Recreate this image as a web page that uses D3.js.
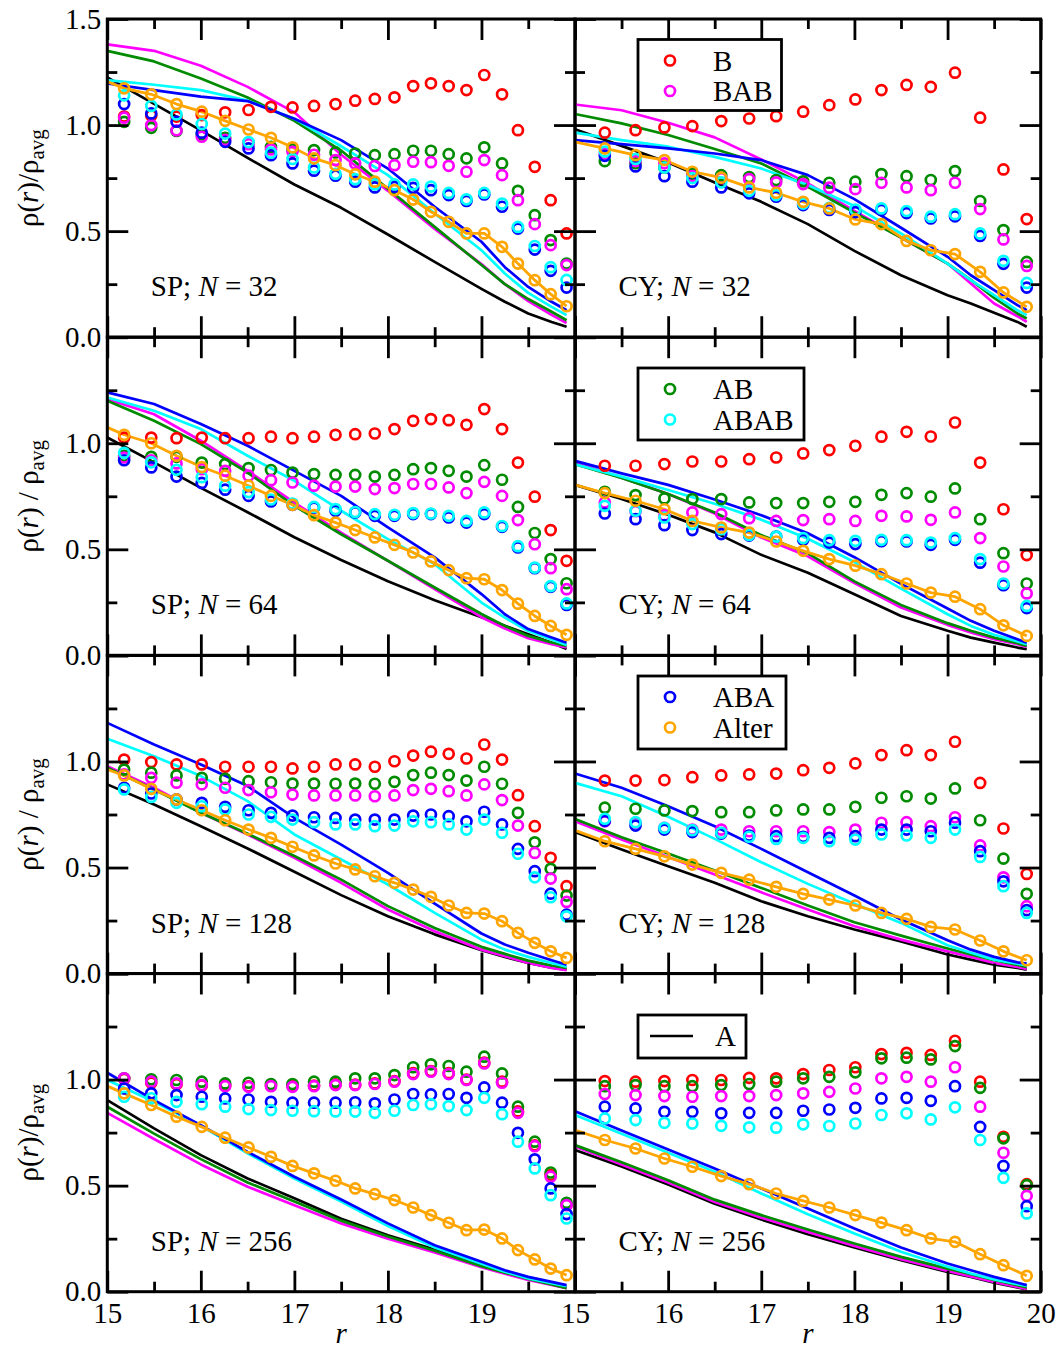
<!DOCTYPE html>
<html>
<head>
<meta charset="utf-8">
<script src="https://cdn.jsdelivr.net/npm/d3@7"></script>
<style>
body { margin: 0; background: #fff; }
svg text { font-family: "Liberation Serif", "Times New Roman", serif; fill: #000; }
</style>
</head>
<body>
<svg id="chart" width="1061" height="1348" font-family="Liberation Serif, serif"></svg>
<script>
// shell radii of the dots, and the line sample points
const R_SP = [15.18, 15.47, 15.74, 16.01, 16.26, 16.51, 16.75, 16.98, 17.21, 17.44, 17.65, 17.86, 18.07, 18.27, 18.46, 18.65, 18.84, 19.03, 19.22, 19.39, 19.57, 19.74, 19.91];
const R_CY = [15.32, 15.65, 15.96, 16.26, 16.57, 16.87, 17.16, 17.45, 17.73, 18.01, 18.29, 18.56, 18.82, 19.08, 19.35, 19.60, 19.85];
const R_LINE_SP = [15, 15.5, 16, 16.5, 17, 17.5, 18, 18.5, 19, 19.25, 19.5, 19.75, 19.91];
const R_LINE_CY = [15, 15.5, 16, 16.5, 17, 17.5, 18, 18.5, 19, 19.25, 19.5, 19.75, 19.85];

const X_MAJOR = [15, 16, 17, 18, 19, 20];
const X_MINOR = [15.5, 16.5, 17.5, 18.5, 19.5];
const Y_MAJOR = [0, 0.5, 1.0, 1.5];
const Y_MINOR = [0.25, 0.75, 1.25];

// ---- SP, N = 32
const sp32_B    = [1.04, 1.045, 1.04, 1.047, 1.06, 1.071, 1.086, 1.083, 1.09, 1.099, 1.115, 1.123, 1.131, 1.184, 1.197, 1.184, 1.165, 1.236, 1.145, 0.976, 0.803, 0.646, 0.489];
const sp32_BAB  = [1.035, 1.0, 0.975, 0.945, 0.93, 0.91, 0.885, 0.874, 0.86, 0.835, 0.819, 0.807, 0.811, 0.827, 0.825, 0.808, 0.78, 0.835, 0.764, 0.646, 0.533, 0.434, 0.34];
const sp32_AB   = [1.015, 0.987, 0.972, 0.956, 0.94, 0.915, 0.897, 0.885, 0.882, 0.871, 0.866, 0.858, 0.863, 0.879, 0.879, 0.863, 0.843, 0.895, 0.819, 0.69, 0.575, 0.458, 0.347];
const sp32_ABAB = [1.14, 1.09, 1.05, 1.005, 0.96, 0.92, 0.87, 0.84, 0.80, 0.77, 0.745, 0.72, 0.72, 0.72, 0.71, 0.68, 0.65, 0.68, 0.63, 0.52, 0.43, 0.33, 0.27];
const sp32_ABA  = [1.099, 1.055, 1.016, 0.964, 0.921, 0.89, 0.858, 0.819, 0.785, 0.761, 0.733, 0.706, 0.709, 0.704, 0.693, 0.670, 0.642, 0.673, 0.615, 0.512, 0.413, 0.313, 0.234];
const sp32_Alter = [1.173, 1.145, 1.099, 1.063, 1.02, 0.979, 0.94, 0.895, 0.843, 0.811, 0.768, 0.733, 0.693, 0.649, 0.591, 0.544, 0.489, 0.489, 0.426, 0.347, 0.269, 0.203, 0.146];
const sp32_alterStart = 1.205;
const sp32_lineA    = [1.225, 1.10, 0.975, 0.845, 0.72, 0.61, 0.484, 0.355, 0.228, 0.167, 0.112, 0.072, 0.049];
const sp32_lineBAB  = [1.38, 1.35, 1.28, 1.18, 1.06, 0.86, 0.69, 0.51, 0.345, 0.25, 0.17, 0.105, 0.067];
const sp32_lineAB   = [1.35, 1.30, 1.22, 1.13, 1.02, 0.88, 0.70, 0.52, 0.34, 0.25, 0.18, 0.12, 0.08];
const sp32_lineABAB = [1.212, 1.19, 1.165, 1.115, 1.03, 0.90, 0.764, 0.583, 0.41, 0.30, 0.209, 0.143, 0.104];
const sp32_lineABA  = [1.196, 1.165, 1.134, 1.113, 1.03, 0.929, 0.795, 0.615, 0.45, 0.33, 0.237, 0.167, 0.127];

// ---- CY, N = 32
const cy32_B    = [0.964, 0.976, 0.989, 0.995, 1.019, 1.031, 1.042, 1.063, 1.094, 1.121, 1.165, 1.189, 1.18, 1.247, 1.035, 0.791, 0.557];
const cy32_BAB  = [0.865, 0.83, 0.82, 0.76, 0.75, 0.745, 0.73, 0.722, 0.705, 0.698, 0.728, 0.706, 0.693, 0.728, 0.604, 0.461, 0.336];
const cy32_AB   = [0.83, 0.82, 0.80, 0.77, 0.764, 0.755, 0.741, 0.735, 0.728, 0.733, 0.769, 0.759, 0.741, 0.783, 0.642, 0.505, 0.355];
const cy32_ABAB = [0.875, 0.84, 0.80, 0.75, 0.73, 0.69, 0.67, 0.63, 0.61, 0.602, 0.607, 0.595, 0.568, 0.58, 0.489, 0.36, 0.256];
const cy32_ABA  = [0.855, 0.805, 0.759, 0.733, 0.706, 0.678, 0.662, 0.623, 0.60, 0.59, 0.60, 0.585, 0.56, 0.57, 0.477, 0.346, 0.234];
const cy32_Alter = [0.89, 0.858, 0.835, 0.78, 0.752, 0.706, 0.681, 0.638, 0.607, 0.555, 0.533, 0.454, 0.41, 0.392, 0.308, 0.211, 0.143];
const cy32_alterStart = 0.921;
const cy32_lineA    = [0.98, 0.902, 0.824, 0.729, 0.638, 0.533, 0.407, 0.292, 0.198, 0.159, 0.115, 0.072, 0.049];
const cy32_lineBAB  = [1.097, 1.07, 1.011, 0.942, 0.838, 0.725, 0.595, 0.47, 0.347, 0.253, 0.159, 0.099, 0.072];
const cy32_lineAB   = [1.052, 1.008, 0.953, 0.887, 0.819, 0.709, 0.587, 0.47, 0.347, 0.27, 0.185, 0.112, 0.088];
const cy32_lineABAB = [0.964, 0.929, 0.898, 0.85, 0.795, 0.717, 0.618, 0.489, 0.347, 0.269, 0.198, 0.127, 0.104];
const cy32_lineABA  = [0.929, 0.91, 0.89, 0.866, 0.835, 0.764, 0.651, 0.516, 0.379, 0.292, 0.222, 0.151, 0.127];

// ---- SP, N = 64
const sp64_B    = [1.027, 1.027, 1.024, 1.027, 1.024, 1.024, 1.031, 1.024, 1.031, 1.040, 1.043, 1.046, 1.067, 1.106, 1.114, 1.109, 1.087, 1.161, 1.067, 0.909, 0.748, 0.591, 0.446];
const sp64_BAB  = [0.933, 0.92, 0.905, 0.878, 0.87, 0.847, 0.826, 0.815, 0.80, 0.796, 0.796, 0.784, 0.789, 0.808, 0.808, 0.792, 0.765, 0.818, 0.752, 0.638, 0.524, 0.411, 0.312];
const sp64_AB   = [0.941, 0.936, 0.936, 0.909, 0.902, 0.883, 0.874, 0.862, 0.855, 0.851, 0.851, 0.843, 0.851, 0.878, 0.883, 0.870, 0.843, 0.897, 0.828, 0.70, 0.577, 0.454, 0.34];
const sp64_ABAB = [0.955, 0.91, 0.875, 0.84, 0.80, 0.77, 0.735, 0.716, 0.70, 0.69, 0.676, 0.666, 0.663, 0.671, 0.669, 0.658, 0.634, 0.674, 0.61, 0.515, 0.414, 0.327, 0.245];
const sp64_ABA  = [0.92, 0.886, 0.843, 0.813, 0.781, 0.752, 0.726, 0.71, 0.697, 0.682, 0.674, 0.658, 0.658, 0.666, 0.666, 0.65, 0.626, 0.666, 0.606, 0.509, 0.411, 0.323, 0.238];
const sp64_Alter = [1.04, 1.0, 0.941, 0.888, 0.847, 0.80, 0.752, 0.71, 0.661, 0.626, 0.591, 0.556, 0.521, 0.485, 0.443, 0.402, 0.364, 0.359, 0.308, 0.244, 0.186, 0.139, 0.097];
const sp64_alterStart = 1.075;
const sp64_lineA    = [1.027, 0.91, 0.79, 0.675, 0.557, 0.45, 0.35, 0.26, 0.18, 0.14, 0.10, 0.06, 0.03];
const sp64_lineBAB  = [1.208, 1.137, 1.012, 0.87, 0.72, 0.579, 0.446, 0.312, 0.18, 0.127, 0.081, 0.053, 0.037];
const sp64_lineAB   = [1.20, 1.106, 0.996, 0.862, 0.705, 0.571, 0.446, 0.32, 0.195, 0.139, 0.092, 0.061, 0.045];
const sp64_lineABAB = [1.216, 1.153, 1.067, 0.941, 0.823, 0.682, 0.548, 0.43, 0.249, 0.178, 0.115, 0.075, 0.049];
const sp64_lineABA  = [1.24, 1.185, 1.091, 0.988, 0.87, 0.752, 0.603, 0.462, 0.289, 0.194, 0.124, 0.084, 0.06];

// ---- CY, N = 64
const cy64_B    = [0.894, 0.894, 0.902, 0.914, 0.914, 0.925, 0.933, 0.952, 0.968, 0.988, 1.031, 1.054, 1.032, 1.098, 0.909, 0.689, 0.473];
const cy64_BAB  = [0.721, 0.68, 0.66, 0.674, 0.666, 0.647, 0.634, 0.638, 0.642, 0.634, 0.658, 0.655, 0.639, 0.674, 0.553, 0.419, 0.292];
const cy64_AB   = [0.771, 0.756, 0.74, 0.737, 0.737, 0.721, 0.718, 0.718, 0.724, 0.724, 0.757, 0.765, 0.748, 0.787, 0.642, 0.482, 0.339];
const cy64_ABAB = [0.705, 0.682, 0.65, 0.619, 0.595, 0.568, 0.56, 0.553, 0.543, 0.54, 0.545, 0.543, 0.532, 0.553, 0.454, 0.339, 0.233];
const cy64_ABA  = [0.669, 0.642, 0.614, 0.591, 0.572, 0.565, 0.56, 0.545, 0.532, 0.525, 0.538, 0.537, 0.521, 0.545, 0.437, 0.331, 0.223];
const cy64_Alter = [0.765, 0.729, 0.689, 0.634, 0.603, 0.579, 0.537, 0.493, 0.454, 0.423, 0.383, 0.339, 0.296, 0.277, 0.218, 0.142, 0.092];
const cy64_alterStart = 0.804;
const cy64_lineA    = [0.804, 0.737, 0.663, 0.58, 0.474, 0.39, 0.288, 0.186, 0.116, 0.084, 0.06, 0.037, 0.029];
const cy64_lineBAB  = [0.909, 0.838, 0.761, 0.669, 0.556, 0.467, 0.341, 0.226, 0.144, 0.108, 0.076, 0.053, 0.04];
const cy64_lineAB   = [0.901, 0.836, 0.761, 0.674, 0.567, 0.481, 0.349, 0.238, 0.152, 0.116, 0.084, 0.058, 0.045];
const cy64_lineABAB = [0.901, 0.843, 0.78, 0.715, 0.64, 0.55, 0.44, 0.315, 0.194, 0.139, 0.097, 0.066, 0.053];
const cy64_lineABA  = [0.917, 0.858, 0.804, 0.735, 0.661, 0.576, 0.463, 0.337, 0.221, 0.163, 0.116, 0.076, 0.06];

// ---- SP, N = 128
const sp128_B    = [1.009, 0.997, 0.986, 0.986, 0.975, 0.975, 0.975, 0.967, 0.975, 0.986, 0.986, 0.975, 1.001, 1.028, 1.046, 1.036, 1.014, 1.08, 1.009, 0.841, 0.695, 0.546, 0.412];
const sp128_BAB  = [0.939, 0.923, 0.9, 0.892, 0.876, 0.865, 0.855, 0.844, 0.84, 0.84, 0.84, 0.836, 0.84, 0.865, 0.871, 0.86, 0.84, 0.892, 0.818, 0.698, 0.569, 0.448, 0.338];
const sp128_AB   = [0.962, 0.947, 0.934, 0.923, 0.918, 0.907, 0.902, 0.896, 0.896, 0.895, 0.896, 0.895, 0.904, 0.936, 0.947, 0.936, 0.91, 0.975, 0.895, 0.758, 0.619, 0.494, 0.368];
const sp128_ABAB = [0.868, 0.833, 0.805, 0.789, 0.774, 0.75, 0.739, 0.726, 0.714, 0.703, 0.703, 0.695, 0.698, 0.718, 0.714, 0.703, 0.679, 0.726, 0.664, 0.565, 0.454, 0.36, 0.27];
const sp128_ABA  = [0.876, 0.849, 0.821, 0.805, 0.786, 0.77, 0.758, 0.745, 0.737, 0.734, 0.726, 0.726, 0.726, 0.745, 0.75, 0.742, 0.718, 0.763, 0.703, 0.588, 0.483, 0.377, 0.278];
const sp128_Alter = [0.934, 0.871, 0.821, 0.77, 0.723, 0.679, 0.64, 0.598, 0.557, 0.519, 0.491, 0.459, 0.428, 0.396, 0.362, 0.321, 0.286, 0.283, 0.247, 0.192, 0.145, 0.105, 0.074];
const sp128_alterStart = 0.962;
const sp128_lineA    = [0.892, 0.797, 0.695, 0.59, 0.48, 0.37, 0.27, 0.185, 0.11, 0.078, 0.05, 0.028, 0.019];
const sp128_lineBAB  = [0.978, 0.876, 0.758, 0.656, 0.546, 0.428, 0.302, 0.2, 0.113, 0.082, 0.05, 0.027, 0.016];
const sp128_lineAB   = [0.97, 0.868, 0.758, 0.659, 0.554, 0.443, 0.318, 0.215, 0.126, 0.093, 0.061, 0.038, 0.027];
const sp128_lineABAB = [1.107, 1.025, 0.931, 0.813, 0.656, 0.538, 0.42, 0.286, 0.16, 0.113, 0.079, 0.05, 0.032];
const sp128_lineABA  = [1.182, 1.08, 0.986, 0.884, 0.734, 0.608, 0.475, 0.33, 0.189, 0.137, 0.098, 0.063, 0.042];

// ---- CY, N = 128
const cy128_B    = [0.91, 0.91, 0.912, 0.926, 0.934, 0.939, 0.943, 0.959, 0.97, 0.991, 1.03, 1.053, 1.03, 1.093, 0.899, 0.684, 0.47];
const cy128_BAB  = [0.718, 0.711, 0.687, 0.679, 0.679, 0.671, 0.671, 0.671, 0.667, 0.679, 0.711, 0.714, 0.695, 0.737, 0.604, 0.454, 0.318];
const cy128_AB   = [0.782, 0.777, 0.769, 0.766, 0.761, 0.761, 0.769, 0.774, 0.774, 0.786, 0.829, 0.836, 0.825, 0.873, 0.723, 0.542, 0.376];
const cy128_ABAB = [0.73, 0.714, 0.687, 0.676, 0.664, 0.645, 0.635, 0.64, 0.624, 0.632, 0.656, 0.651, 0.64, 0.679, 0.55, 0.412, 0.286];
const cy128_ABA  = [0.72, 0.698, 0.679, 0.667, 0.66, 0.651, 0.648, 0.645, 0.64, 0.648, 0.679, 0.679, 0.671, 0.711, 0.577, 0.435, 0.299];
const cy128_Alter = [0.624, 0.588, 0.553, 0.514, 0.475, 0.443, 0.409, 0.376, 0.349, 0.321, 0.286, 0.258, 0.22, 0.208, 0.156, 0.105, 0.063];
const cy128_alterStart = 0.675;
const cy128_lineA    = [0.667, 0.585, 0.506, 0.428, 0.341, 0.27, 0.208, 0.152, 0.09, 0.066, 0.042, 0.027, 0.019];
const cy128_lineBAB  = [0.718, 0.632, 0.55, 0.467, 0.383, 0.302, 0.223, 0.16, 0.105, 0.079, 0.05, 0.032, 0.022];
const cy128_lineAB   = [0.729, 0.643, 0.566, 0.486, 0.404, 0.321, 0.242, 0.179, 0.118, 0.09, 0.063, 0.041, 0.032];
const cy128_lineABAB = [0.899, 0.836, 0.739, 0.635, 0.525, 0.423, 0.329, 0.239, 0.134, 0.098, 0.066, 0.047, 0.038];
const cy128_lineABA  = [0.943, 0.876, 0.789, 0.695, 0.588, 0.478, 0.368, 0.255, 0.157, 0.113, 0.079, 0.053, 0.047];

// ---- SP, N = 256
const sp256_B    = [1.003, 0.985, 0.978, 0.972, 0.972, 0.968, 0.972, 0.97, 0.972, 0.978, 0.976, 0.982, 0.993, 1.03, 1.04, 1.03, 1.0, 1.08, 0.99, 0.85, 0.69, 0.55, 0.41];
const sp256_BAB  = [1.006, 0.99, 0.982, 0.974, 0.969, 0.966, 0.969, 0.966, 0.969, 0.974, 0.974, 0.979, 0.99, 1.026, 1.037, 1.026, 0.998, 1.076, 0.985, 0.843, 0.686, 0.542, 0.408];
const sp256_AB   = [1.006, 1.001, 0.998, 0.99, 0.982, 0.985, 0.979, 0.979, 0.99, 0.99, 1.006, 1.006, 1.021, 1.058, 1.072, 1.064, 1.037, 1.108, 1.029, 0.872, 0.707, 0.562, 0.419];
const sp256_ABAB = [0.919, 0.912, 0.895, 0.884, 0.872, 0.861, 0.856, 0.853, 0.851, 0.85, 0.849, 0.843, 0.853, 0.88, 0.884, 0.875, 0.856, 0.914, 0.837, 0.707, 0.581, 0.455, 0.345];
const sp256_ABA  = [0.958, 0.935, 0.927, 0.919, 0.911, 0.906, 0.895, 0.891, 0.891, 0.891, 0.893, 0.888, 0.906, 0.932, 0.93, 0.932, 0.914, 0.963, 0.891, 0.749, 0.624, 0.487, 0.366];
const sp256_Alter = [0.935, 0.88, 0.825, 0.777, 0.726, 0.68, 0.636, 0.593, 0.558, 0.523, 0.487, 0.46, 0.432, 0.397, 0.361, 0.325, 0.29, 0.293, 0.251, 0.196, 0.152, 0.109, 0.078];
const sp256_alterStart = 0.969;
const sp256_lineA    = [0.903, 0.77, 0.644, 0.534, 0.44, 0.344, 0.266, 0.199, 0.125, 0.093, 0.062, 0.035, 0.018];
const sp256_lineBAB  = [0.843, 0.72, 0.60, 0.495, 0.408, 0.322, 0.25, 0.185, 0.115, 0.085, 0.056, 0.032, 0.016];
const sp256_lineAB   = [0.872, 0.745, 0.625, 0.515, 0.425, 0.335, 0.26, 0.193, 0.12, 0.09, 0.06, 0.034, 0.017];
const sp256_lineABAB = [0.998, 0.895, 0.782, 0.652, 0.533, 0.425, 0.31, 0.208, 0.132, 0.094, 0.063, 0.04, 0.026];
const sp256_lineABA  = [1.032, 0.903, 0.785, 0.659, 0.542, 0.435, 0.322, 0.219, 0.141, 0.101, 0.07, 0.046, 0.031];

// ---- CY, N = 256
const cy256_B    = [0.993, 0.99, 0.993, 0.998, 0.998, 1.008, 1.006, 1.026, 1.045, 1.058, 1.12, 1.126, 1.116, 1.183, 0.99, 0.73, 0.507];
const cy256_BAB  = [0.932, 0.927, 0.922, 0.919, 0.922, 0.922, 0.927, 0.935, 0.942, 0.958, 1.006, 1.013, 0.99, 1.058, 0.872, 0.655, 0.452];
const cy256_AB   = [0.969, 0.974, 0.969, 0.969, 0.974, 0.979, 0.99, 1.006, 1.013, 1.034, 1.1, 1.103, 1.095, 1.158, 0.961, 0.723, 0.502];
const cy256_ABAB = [0.817, 0.809, 0.796, 0.793, 0.782, 0.775, 0.773, 0.789, 0.781, 0.793, 0.833, 0.841, 0.812, 0.869, 0.715, 0.537, 0.369];
const cy256_ABA  = [0.872, 0.864, 0.848, 0.848, 0.841, 0.843, 0.843, 0.853, 0.859, 0.867, 0.911, 0.914, 0.9, 0.969, 0.777, 0.593, 0.403];
const cy256_Alter = [0.715, 0.675, 0.628, 0.589, 0.545, 0.507, 0.463, 0.428, 0.397, 0.361, 0.326, 0.29, 0.251, 0.235, 0.177, 0.125, 0.075];
const cy256_alterStart = 0.762;
const cy256_lineA    = [0.668, 0.59, 0.505, 0.415, 0.34, 0.271, 0.208, 0.148, 0.093, 0.07, 0.043, 0.02, 0.011];
const cy256_lineBAB  = [0.684, 0.60, 0.515, 0.423, 0.349, 0.282, 0.216, 0.153, 0.098, 0.072, 0.046, 0.023, 0.013];
const cy256_lineAB   = [0.691, 0.61, 0.525, 0.434, 0.361, 0.293, 0.227, 0.164, 0.109, 0.083, 0.055, 0.031, 0.02];
const cy256_lineABAB = [0.833, 0.745, 0.655, 0.566, 0.463, 0.365, 0.274, 0.188, 0.118, 0.086, 0.058, 0.036, 0.027];
const cy256_lineABA  = [0.851, 0.76, 0.67, 0.581, 0.487, 0.392, 0.298, 0.208, 0.133, 0.101, 0.07, 0.042, 0.031];

const COLORS = {A: "#000000", B: "#ff0000", BAB: "#ff00ff", AB: "#008b00", ABAB: "#00ffff", ABA: "#0000ff", Alter: "#ffa500"};
const LINE_ORDER = ["A", "BAB", "AB", "ABAB", "ABA"];
const DOT_ORDER = ["B", "AB", "BAB", "ABA", "ABAB", "Alter"];
const LEGEND_ROWS = [["B", "BAB"], ["AB", "ABAB"], ["ABA", "Alter"], ["A"]];

// layout
const COL_X = [[107.3, 575], [575, 1040.7]];
const ROW_Y = [19, 337.2, 655.4, 973.5];
const ROW_H = 318.2;
const SERIF = "Liberation Serif, Times New Roman, serif";

const PANELS = [
    {geom: "SP", n: 32, row: 0, col: 0, alterStart: sp32_alterStart,
     dots: {B: sp32_B, BAB: sp32_BAB, AB: sp32_AB, ABAB: sp32_ABAB, ABA: sp32_ABA, Alter: sp32_Alter},
     lines: {A: sp32_lineA, BAB: sp32_lineBAB, AB: sp32_lineAB, ABAB: sp32_lineABAB, ABA: sp32_lineABA}},
    {geom: "CY", n: 32, row: 0, col: 1, alterStart: cy32_alterStart,
     dots: {B: cy32_B, BAB: cy32_BAB, AB: cy32_AB, ABAB: cy32_ABAB, ABA: cy32_ABA, Alter: cy32_Alter},
     lines: {A: cy32_lineA, BAB: cy32_lineBAB, AB: cy32_lineAB, ABAB: cy32_lineABAB, ABA: cy32_lineABA}},
    {geom: "SP", n: 64, row: 1, col: 0, alterStart: sp64_alterStart,
     dots: {B: sp64_B, BAB: sp64_BAB, AB: sp64_AB, ABAB: sp64_ABAB, ABA: sp64_ABA, Alter: sp64_Alter},
     lines: {A: sp64_lineA, BAB: sp64_lineBAB, AB: sp64_lineAB, ABAB: sp64_lineABAB, ABA: sp64_lineABA}},
    {geom: "CY", n: 64, row: 1, col: 1, alterStart: cy64_alterStart,
     dots: {B: cy64_B, BAB: cy64_BAB, AB: cy64_AB, ABAB: cy64_ABAB, ABA: cy64_ABA, Alter: cy64_Alter},
     lines: {A: cy64_lineA, BAB: cy64_lineBAB, AB: cy64_lineAB, ABAB: cy64_lineABAB, ABA: cy64_lineABA}},
    {geom: "SP", n: 128, row: 2, col: 0, alterStart: sp128_alterStart,
     dots: {B: sp128_B, BAB: sp128_BAB, AB: sp128_AB, ABAB: sp128_ABAB, ABA: sp128_ABA, Alter: sp128_Alter},
     lines: {A: sp128_lineA, BAB: sp128_lineBAB, AB: sp128_lineAB, ABAB: sp128_lineABAB, ABA: sp128_lineABA}},
    {geom: "CY", n: 128, row: 2, col: 1, alterStart: cy128_alterStart,
     dots: {B: cy128_B, BAB: cy128_BAB, AB: cy128_AB, ABAB: cy128_ABAB, ABA: cy128_ABA, Alter: cy128_Alter},
     lines: {A: cy128_lineA, BAB: cy128_lineBAB, AB: cy128_lineAB, ABAB: cy128_lineABAB, ABA: cy128_lineABA}},
    {geom: "SP", n: 256, row: 3, col: 0, alterStart: sp256_alterStart,
     dots: {B: sp256_B, BAB: sp256_BAB, AB: sp256_AB, ABAB: sp256_ABAB, ABA: sp256_ABA, Alter: sp256_Alter},
     lines: {A: sp256_lineA, BAB: sp256_lineBAB, AB: sp256_lineAB, ABAB: sp256_lineABAB, ABA: sp256_lineABA}},
    {geom: "CY", n: 256, row: 3, col: 1, alterStart: cy256_alterStart,
     dots: {B: cy256_B, BAB: cy256_BAB, AB: cy256_AB, ABAB: cy256_ABAB, ABA: cy256_ABA, Alter: cy256_Alter},
     lines: {A: cy256_lineA, BAB: cy256_lineBAB, AB: cy256_lineAB, ABAB: cy256_lineABAB, ABA: cy256_lineABA}}
];

const svg = d3.select("#chart");
const FONT = 29;
const fmtY = d3.format(".1f");

function tickAxis(g, axisFn, scale, transform, values, size, fmt, pad){
    const ax = axisFn(scale).tickValues(values).tickSize(-size).tickSizeOuter(0)
        .tickPadding(pad || 0).tickFormat(fmt || (() => ""));
    const sel = g.append("g").attr("transform", transform).call(ax);
    sel.select(".domain").remove();
    sel.attr("font-family", SERIF).attr("font-size", FONT);
    sel.selectAll(".tick line").attr("stroke", "#000").attr("stroke-width", 2.8);
    sel.selectAll(".tick text").attr("font-size", FONT).attr("font-family", SERIF).attr("fill", "#000");
}

function drawPanel(p){
    const [x0, x1] = COL_X[p.col];
    const top = ROW_Y[p.row], bottom = top + ROW_H;
    const x = d3.scaleLinear().domain([15, 20]).range([x0, x1]);
    const y = d3.scaleLinear().domain([0, 1.5]).range([bottom, top]);
    const grid = p.geom === "SP" ? R_SP : R_CY;
    const lineGrid = p.geom === "SP" ? R_LINE_SP : R_LINE_CY;
    const g = svg.append("g");
    const line = d3.line().x(d => x(d[0])).y(d => y(d[1]));

    LINE_ORDER.forEach(name => {
        const vals = p.lines[name];
        g.append("path")
            .datum(lineGrid.map((r, i) => [r, vals[i]]))
            .attr("d", line)
            .attr("fill", "none")
            .attr("stroke", COLORS[name])
            .attr("stroke-width", 2.7)
            .attr("stroke-linejoin", "round");
    });

    // the Alter dots are joined by a line that starts at r = 15
    const alterPts = [[15, p.alterStart]].concat(grid.map((r, i) => [r, p.dots.Alter[i]]));
    g.append("path")
        .datum(alterPts)
        .attr("d", line)
        .attr("fill", "none")
        .attr("stroke", COLORS.Alter)
        .attr("stroke-width", 2.8)
        .attr("stroke-linejoin", "round");

    DOT_ORDER.forEach(name => {
        const vals = p.dots[name];
        g.append("g").selectAll("circle")
            .data(grid.map((r, i) => [r, vals[i]]))
            .join("circle")
            .attr("cx", d => x(d[0]))
            .attr("cy", d => y(d[1]))
            .attr("r", 5)
            .attr("fill", "none")
            .attr("stroke", COLORS[name])
            .attr("stroke-width", 2.7);
    });

    // ticks on all four sides, pointing inward
    const isBottomRow = p.row === 3, isLeftCol = p.col === 0;
    const xLabels = p.col === 0 ? [15, 16, 17, 18, 19] : [15, 16, 17, 18, 19, 20];
    const yLabels = p.row === 0 ? [0, 0.5, 1.0, 1.5] : [0, 0.5, 1.0];
    tickAxis(g, d3.axisBottom, x, `translate(0,${bottom})`, X_MAJOR, 21,
        isBottomRow ? (d => xLabels.includes(d) ? d : "") : null, 11);
    tickAxis(g, d3.axisBottom, x, `translate(0,${bottom})`, X_MINOR, 10);
    tickAxis(g, d3.axisTop, x, `translate(0,${top})`, X_MAJOR, 21);
    tickAxis(g, d3.axisTop, x, `translate(0,${top})`, X_MINOR, 10);
    tickAxis(g, d3.axisLeft, y, `translate(${x0},0)`, Y_MAJOR, 21,
        isLeftCol ? (d => yLabels.includes(d) ? fmtY(d) : "") : null, 6);
    tickAxis(g, d3.axisLeft, y, `translate(${x0},0)`, Y_MINOR, 10);
    tickAxis(g, d3.axisRight, y, `translate(${x1},0)`, Y_MAJOR, 21);
    tickAxis(g, d3.axisRight, y, `translate(${x1},0)`, Y_MINOR, 10);

    g.append("rect")
        .attr("x", x0).attr("y", top)
        .attr("width", x1 - x0).attr("height", ROW_H)
        .attr("fill", "none").attr("stroke", "#000").attr("stroke-width", 3);

    const label = g.append("text")
        .attr("x", x0 + 43.5)
        .attr("y", bottom - 41)
        .attr("font-family", SERIF)
        .attr("font-size", FONT);
    label.append("tspan").text(p.geom + "; ");
    label.append("tspan").attr("font-style", "italic").text("N");
    label.append("tspan").text(" = " + p.n);
}

PANELS.forEach(drawPanel);

// legends in the right column
const LEGEND_BOX = [
    {x: 638, y: 39.5, w: 143.5, h: 71},
    {x: 638, y: 368, w: 166, h: 72},
    {x: 638, y: 676, w: 148, h: 73},
    {x: 638, y: 1015, w: 108, h: 43}
];
LEGEND_ROWS.forEach((entries, i) => {
    const b = LEGEND_BOX[i];
    const lg = svg.append("g").attr("font-family", SERIF).attr("font-size", FONT);
    lg.append("rect")
        .attr("x", b.x).attr("y", b.y).attr("width", b.w).attr("height", b.h)
        .attr("fill", "#fff").attr("stroke", "#000").attr("stroke-width", 2.8);
    entries.forEach((name, j) => {
        const cy = b.y + 21 + j * 30.5;
        if(name === "A"){
            lg.append("line")
                .attr("x1", b.x + 12).attr("x2", b.x + 55)
                .attr("y1", cy).attr("y2", cy)
                .attr("stroke", COLORS.A).attr("stroke-width", 2.7);
            lg.append("text").attr("x", b.x + 77).attr("y", cy + 10).text(name);
        } else {
            lg.append("circle")
                .attr("cx", b.x + 32).attr("cy", cy).attr("r", 5)
                .attr("fill", "none").attr("stroke", COLORS[name]).attr("stroke-width", 2.7);
            lg.append("text").attr("x", b.x + 75).attr("y", cy + 10).text(name);
        }
    });
});

// y axis titles, one per row
ROW_Y.forEach((top, i) => {
    const spaced = i === 1 || i === 2;
    const t = svg.append("text")
        .attr("transform", `translate(38,${top + ROW_H / 2}) rotate(-90)`)
        .attr("text-anchor", "middle")
        .attr("font-family", SERIF)
        .attr("font-size", FONT);
    t.append("tspan").text("ρ(");
    t.append("tspan").attr("font-style", "italic").text("r");
    t.append("tspan").text(spaced ? ") / ρ" : ")/ρ");
    t.append("tspan").attr("font-size", 21).attr("dy", 6).text("avg");
});

// x axis titles
COL_X.forEach(([a, b]) => {
    svg.append("text")
        .attr("x", (a + b) / 2)
        .attr("y", 1343)
        .attr("text-anchor", "middle")
        .attr("font-family", SERIF)
        .attr("font-size", FONT)
        .attr("font-style", "italic")
        .text("r");
});
</script>
</body>
</html>
